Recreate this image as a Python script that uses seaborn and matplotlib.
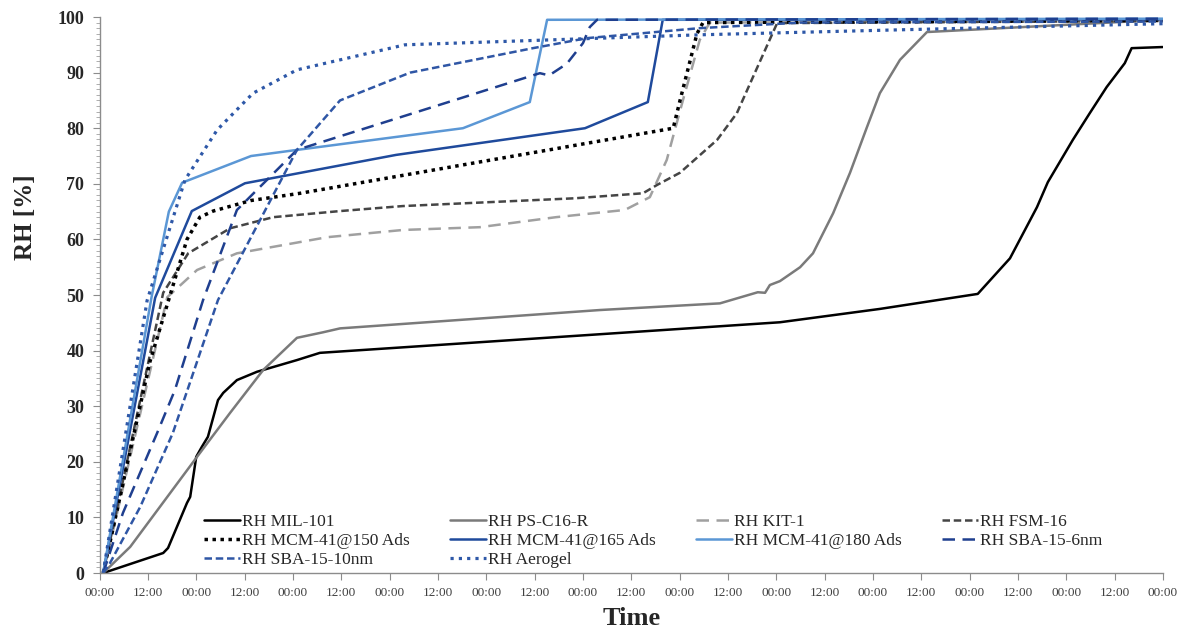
import numpy as np
import pandas as pd
import matplotlib
matplotlib.use("Agg")
import matplotlib.pyplot as plt
import seaborn as sns
from matplotlib.ticker import MultipleLocator

sns.set_theme(style="white")
plt.rcParams['font.family'] = ['Liberation Serif', 'DejaVu Serif']

# ---------------- data (time in hours, RH in %) ----------------
mil_t = [0.9, 15.8, 17.0, 21.7, 22.5, 24.0, 25.4, 26.9, 29.4, 30.7, 34.1, 39.1, 49.0, 54.7,
         168.9, 193.7, 218.0, 226.0, 232.7, 235.4, 241.6, 245.8, 250.0, 254.5, 256.2, 263.9]
mil_v = [0.0, 3.6, 4.5, 12.6, 13.7, 20.9, 22.7, 24.5, 31.1, 32.4, 34.7, 36.2, 38.3, 39.6,
         45.1, 47.5, 50.2, 56.6, 65.8, 70.3, 77.9, 82.7, 87.4, 91.7, 94.4, 94.6]

ps_t = [0.9, 7.6, 24.2, 32.4, 40.6, 49.0, 55.5, 59.7, 124.2, 154.0, 163.4, 165.2, 166.4,
        168.9, 173.9, 177.1, 182.1, 186.3, 190.5, 193.7, 198.7, 205.4, 263.9]
ps_v = [0.0, 4.7, 20.9, 28.8, 36.5, 42.3, 43.3, 44.0, 47.3, 48.5, 50.5, 50.4, 51.8,
        52.5, 55.0, 57.5, 64.7, 72.0, 80.2, 86.3, 92.3, 97.3, 99.5]

kit_t = [0.9, 16.8, 24.2, 34.1, 56.5, 75.3, 94.4, 113.3, 130.4, 136.6, 140.8, 144.8, 149.0, 151.5, 263.9]
kit_v = [0.0, 49.6, 54.5, 57.5, 60.4, 61.7, 62.2, 64.0, 65.3, 67.6, 74.3, 85.0, 95.9, 99.0, 99.3]

fsm_t = [0.9, 15.8, 22.0, 32.4, 43.1, 59.7, 75.3, 118.0, 134.9, 138.4, 144.1, 153.3, 158.2, 162.2, 168.2, 263.9]
fsm_v = [0.0, 50.4, 57.5, 62.0, 64.0, 65.1, 66.0, 67.4, 68.3, 69.8, 72.0, 77.9, 82.7, 89.2, 98.9, 99.3]

m150_t = [0.9, 12.5, 21.7, 24.9, 28.2, 37.6, 49.8, 142.4, 144.1, 148.3, 149.8, 263.9]
m150_v = [0.0, 38.0, 60.0, 64.0, 65.1, 67.0, 68.3, 80.0, 85.0, 97.0, 99.0, 99.4]

m165_t = [0.9, 13.8, 22.9, 36.1, 73.6, 120.5, 136.1, 139.8, 263.9]
m165_v = [0.0, 49.5, 65.1, 70.1, 75.2, 80.0, 84.7, 99.5, 99.6]

m180_t = [0.9, 12.9, 17.2, 20.5, 37.6, 49.0, 90.2, 106.8, 111.1, 263.9]
m180_v = [0.0, 49.6, 65.0, 70.2, 75.0, 76.1, 80.0, 84.7, 99.5, 99.7]

sba6_t = [0.9, 5.8, 14.3, 18.7, 25.7, 34.1, 49.0, 109.3, 111.6, 116.0, 120.0, 121.7, 123.5, 263.9]
sba6_v = [0.0, 10.8, 25.2, 32.9, 49.1, 65.3, 76.1, 89.9, 89.5, 91.6, 95.3, 98.2, 99.5, 99.7]

sba10_t = [0.9, 2.6, 10.1, 18.2, 29.4, 49.0, 59.7, 77.1, 107.6, 121.0, 149.0, 174.0, 263.9]
sba10_v = [0.0, 1.8, 11.9, 25.2, 49.1, 76.1, 85.0, 90.0, 94.4, 96.2, 98.0, 99.0, 99.2]

aer_t = [0.9, 11.8, 21.2, 29.2, 38.1, 49.0, 75.8, 149.0, 198.7, 263.9]
aer_v = [0.0, 49.0, 70.7, 79.7, 86.3, 90.5, 95.0, 96.8, 97.7, 98.8]

tick_hours = list(range(0, 265, 12))
tick_labels = ["00:00" if i % 2 == 0 else "12:00" for i in range(len(tick_hours))]

# ---------------- styles ----------------
series = [
    ("RH MIL-101", mil_t, mil_v, "#000000", "-", 1.8),
    ("RH PS-C16-R", ps_t, ps_v, "#7a7a7a", "-", 1.8),
    ("RH KIT-1", kit_t, kit_v, "#a0a0a0", (0, (5, 3)), 1.8),
    ("RH FSM-16", fsm_t, fsm_v, "#454545", (0, (3, 1.5)), 1.8),
    ("RH MCM-41@150 Ads", m150_t, m150_v, "#000000", (0, (1, 1.3)), 2.5),
    ("RH MCM-41@165 Ads", m165_t, m165_v, "#1f4a9c", "-", 1.8),
    ("RH MCM-41@180 Ads", m180_t, m180_v, "#5b97d5", "-", 1.8),
    ("RH SBA-15-6nm", sba6_t, sba6_v, "#1f3f8f", (0, (5, 3)), 1.8),
    ("RH SBA-15-10nm", sba10_t, sba10_v, "#2f56a5", (0, (3, 1.5)), 1.8),
    ("RH Aerogel", aer_t, aer_v, "#2e58a8", (0, (1, 1.6)), 2.3),
]

fig = plt.figure(figsize=(11.88, 6.35), dpi=100)
ax = fig.add_axes([0.0838, 0.0976, 0.8952, 0.8756])

for label, t, v, c, ls, lw in series:
    df = pd.DataFrame({"t": t, "v": v})
    sns.lineplot(data=df, x="t", y="v", ax=ax, color=c, linestyle=ls, linewidth=lw,
                 label=label, sort=False, estimator=None)

ax.set_xlim(0, 264)
ax.set_ylim(0, 100)
ax.set_xticks(tick_hours)
ax.set_xticklabels(tick_labels)
ax.yaxis.set_major_locator(MultipleLocator(10))
ax.yaxis.set_minor_locator(MultipleLocator(1))

for s in ["top", "right"]:
    ax.spines[s].set_visible(False)
for s in ["left", "bottom"]:
    ax.spines[s].set_color("#8c8c8c")
    ax.spines[s].set_linewidth(1.0)

ax.tick_params(axis="x", which="major", direction="out", length=5, width=0.8,
               color="#8c8c8c", labelsize=9.5, labelcolor="#404040", pad=5, bottom=True)
ax.tick_params(axis="y", which="major", direction="out", length=5, width=0.8,
               color="#8c8c8c", labelsize=13, pad=6, left=True)
ax.tick_params(axis="y", which="minor", direction="out", length=3, width=0.6,
               color="#a0a0a0", left=True)
for lab in ax.get_yticklabels():
    lab.set_fontweight("bold")

ax.set_xlabel("Time", fontsize=19, fontweight="bold", labelpad=6)
ax.set_ylabel("RH [%]", fontsize=18, fontweight="bold")
ax.yaxis.set_label_coords(-0.059, 0.64)

handles, labels = ax.get_legend_handles_labels()
hmap = dict(zip(labels, handles))
order = ["RH MIL-101", "RH MCM-41@150 Ads", "RH SBA-15-10nm",
         "RH PS-C16-R", "RH MCM-41@165 Ads", "RH Aerogel",
         "RH KIT-1", "RH MCM-41@180 Ads",
         "RH FSM-16", "RH SBA-15-6nm"]
ax.legend([hmap[o] for o in order], order, ncol=4, frameon=False,
          loc="upper left", bbox_to_anchor=(204 / 1188, 1 - 514 / 635),
          bbox_transform=fig.transFigure, fontsize=12.5, handlelength=2.1,
          handletextpad=0.1, columnspacing=2.3, labelspacing=0.15,
          borderpad=0, borderaxespad=0)

fig.savefig("out.png", dpi=100)
